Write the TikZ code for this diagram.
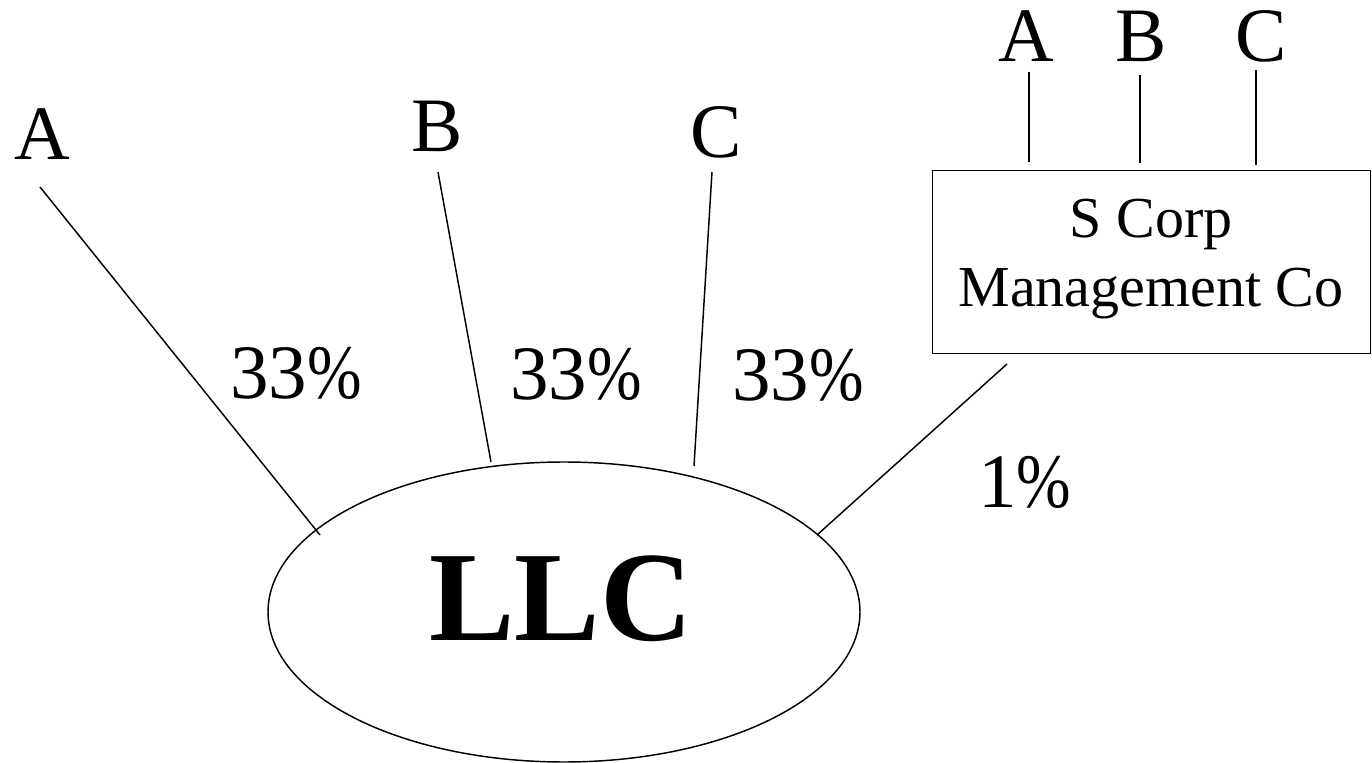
\documentclass[tikz,border=0pt]{standalone}
\usepackage{fontspec}
\usepackage{graphicx}
\setmainfont{Liberation Serif}
\usetikzlibrary{shapes.geometric}
\newcommand{\pct}{\scalebox{0.85}[1]{\%}}
\begin{document}
\begin{tikzpicture}[x=0.75pt,y=-0.75pt,
  big/.style={font=\fontsize{57.75}{60}\selectfont, inner sep=0pt, anchor=base},
  boxtext/.style={font=\fontsize{43.5}{52}\selectfont, inner sep=0pt, anchor=base},
  link/.style={line width=1.1pt},
  stem/.style={line width=1.5pt}]
\useasboundingbox (0,0) rectangle (1372,763);

% the LLC
\node[draw, line width=1.1pt, ellipse, minimum width=444pt, minimum height=225pt, inner sep=0pt] (llc) at (564,612) {};
\node[font=\bfseries\fontsize{96}{100}\selectfont, inner sep=0pt, anchor=base] (llctext) at (561,640) {LLC};

% members
\node[big] (ma) at (42,160) {A};
\node[big] (mb) at (437,152) {B};
\node[big] (mc) at (716,158) {C};

% ownership shares
\node[big] (pa) at (296,398) {33\pct};
\node[big] (pb) at (576,399) {33\pct};
\node[big] (pc) at (798,400) {33\pct};
\node[big] (ps) at (1025,507) {1\pct};

% management company
\node[draw, line width=1.1pt, minimum width=328.5pt, minimum height=137.25pt, inner sep=0pt, anchor=north west] (sc) at (932,170) {};
\node[boxtext] (sc1) at (1151,238) {S Corp};
\node[boxtext] (sc2) at (1151,306) {Management Co};

% its shareholders
\node[big] (sa) at (1026,62) {A};
\node[big] (sb) at (1141,62) {B};
\node[big] (scc) at (1261,62) {C};

% connector end points
\coordinate (a0) at (40,187);   \coordinate (a1) at (320,535);
\coordinate (b0) at (438,172);  \coordinate (b1) at (491,462);
\coordinate (c0) at (712,172);  \coordinate (c1) at (694,466);
\coordinate (s0) at (1007,364); \coordinate (s1) at (817,535);
\draw[link] (a0) -- (a1);
\draw[link] (b0) -- (b1);
\draw[link] (c0) -- (c1);
\draw[link] (s0) -- (s1);

\coordinate (ta0) at (1029,72);  \coordinate (ta1) at (1029,162);
\coordinate (tb0) at (1140,75);  \coordinate (tb1) at (1140,163);
\coordinate (tc0) at (1256,70);  \coordinate (tc1) at (1256,165);
\draw[stem] (ta0) -- (ta1);
\draw[stem] (tb0) -- (tb1);
\draw[stem] (tc0) -- (tc1);
\end{tikzpicture}
\end{document}
